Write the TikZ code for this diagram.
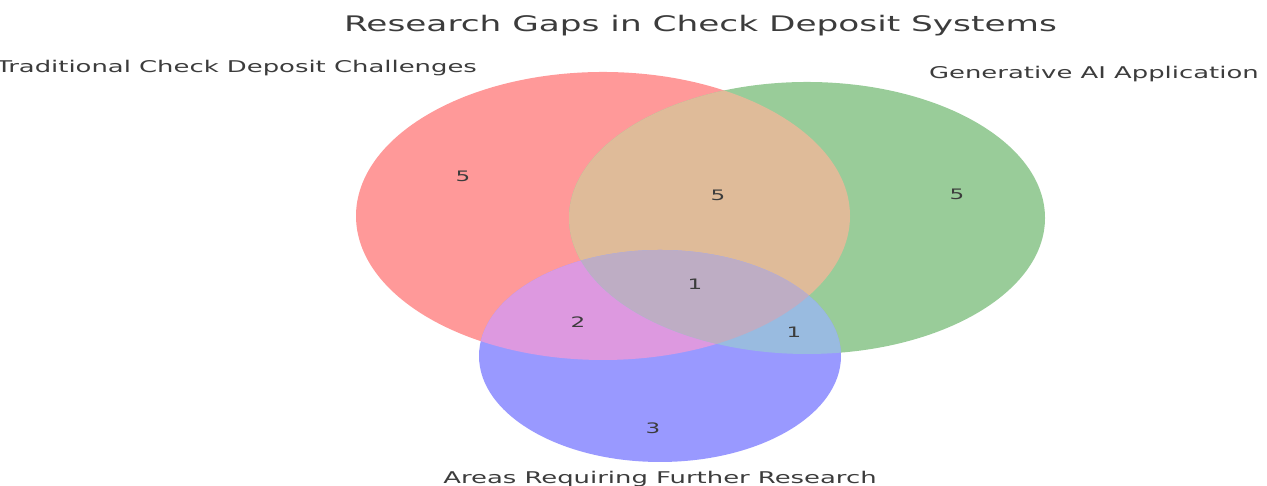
\documentclass[tikz,border=0pt]{standalone}
\usepackage{fontspec}
\setmainfont{DejaVu Sans}

\definecolor{txtgray}{RGB}{60,60,60}
\definecolor{redonly}{HTML}{FF9999}
\definecolor{greenonly}{HTML}{99CC99}
\definecolor{blueonly}{HTML}{9999FF}
\definecolor{redgreen}{HTML}{DFBB99}
\definecolor{redblue}{HTML}{DD99E0}
\definecolor{greenblue}{HTML}{99BBE0}
\definecolor{allthree}{HTML}{BEADC4}

\begin{document}
\begin{tikzpicture}[x=1cm, y=1cm]
		\tikzset{
			txt/.style={text=txtgray, inner sep=0pt, xscale=1.6},
			title/.style={txt, font=\fontsize{6.1}{7}\selectfont},
			setlabel/.style={txt, font=\fontsize{4.6}{5}\selectfont},
			num/.style={txt, font=\fontsize{4.1}{5}\selectfont}
		}
		\useasboundingbox (0,0) rectangle (12.67,4.86);
		
		\coordinate (R) at (6.03, 2.70);
		\coordinate (G) at (8.07, 2.68);
		\coordinate (B) at (6.60, 1.30);
		
		% single sets
		\fill[redonly]   (R) ellipse [x radius=2.47, y radius=1.44];
		\fill[greenonly] (G) ellipse [x radius=2.38, y radius=1.36];
		\fill[blueonly]  (B) ellipse [x radius=1.81, y radius=1.06];
		
		% pairwise overlaps
		\begin{scope}
			\clip (R) ellipse [x radius=2.47, y radius=1.44];
			\fill[redgreen] (G) ellipse [x radius=2.38, y radius=1.36];
			\fill[redblue]  (B) ellipse [x radius=1.81, y radius=1.06];
		\end{scope}
		\begin{scope}
			\clip (G) ellipse [x radius=2.38, y radius=1.36];
			\fill[greenblue] (B) ellipse [x radius=1.81, y radius=1.06];
		\end{scope}
		
		% all three
		\begin{scope}
			\clip (R) ellipse [x radius=2.47, y radius=1.44];
			\clip (G) ellipse [x radius=2.38, y radius=1.36];
			\fill[allthree] (B) ellipse [x radius=1.81, y radius=1.06];
		\end{scope}
		
		\node[title, anchor=base] (T) at (7.005, 4.54) {Research Gaps in Check Deposit Systems};
		\node[setlabel, anchor=base east] (LR) at (4.78, 4.13) {Traditional Check Deposit Challenges};
		\node[setlabel, anchor=base west] (LG) at (9.28, 4.07) {Generative AI Application};
		\node[setlabel, anchor=base] (LB) at (6.60, 0.02) {Areas Requiring Further Research};
		
		\node[num] (nR)   at (4.63, 3.10) {5};
		\node[num] (nRG)  at (7.18, 2.91) {5};
		\node[num] (nG)   at (9.57, 2.92) {5};
		\node[num] (nRGB) at (6.95, 2.02) {1};
		\node[num] (nRB)  at (5.78, 1.64) {2};
		\node[num] (nGB)  at (7.94, 1.54) {1};
		\node[num] (nB)   at (6.53, 0.58) {3};
	\end{tikzpicture}
\end{document}
